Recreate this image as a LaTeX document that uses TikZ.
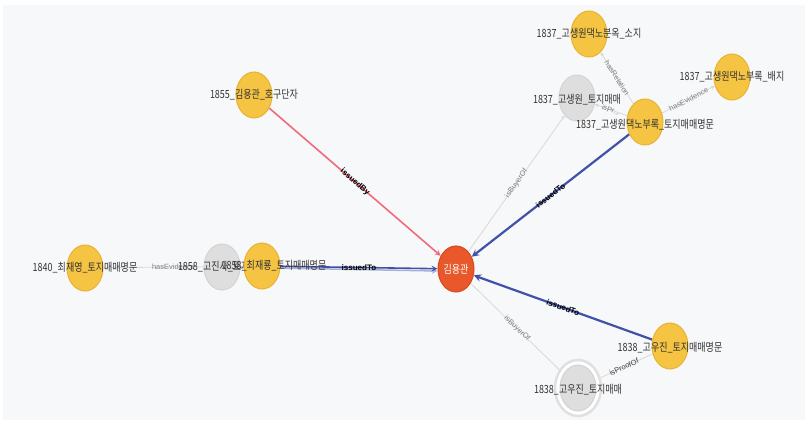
\documentclass[tikz,border=0pt]{standalone}
\usepackage{fontspec}
\setmainfont{Noto Sans CJK KR}
\newfontfamily\edgefont{Liberation Sans}
\usetikzlibrary{shapes.geometric,backgrounds}

\definecolor{paper}{HTML}{F7F8FA}
\definecolor{docfill}{HTML}{F5C443}
\definecolor{docedge}{HTML}{E9B230}
\definecolor{dealfill}{HTML}{DEDEDE}
\definecolor{dealedge}{HTML}{D3D3D3}
\definecolor{personfill}{HTML}{E8582B}
\definecolor{personedge}{HTML}{D5471E}
\definecolor{byline}{HTML}{F06B7B}
\definecolor{toline}{HTML}{4052A8}
\definecolor{softline}{HTML}{D8D8D8}
\definecolor{nametext}{HTML}{333333}

\begin{document}
\begin{tikzpicture}[x=1pt, y=-1pt, >=stealth,
    doc/.style = {ellipse, draw=docedge, fill=docfill, line width=1pt, minimum width=36pt, minimum height=46pt, inner sep=0pt},
    deal/.style = {doc, draw=dealedge, fill=dealfill},
    person/.style = {doc, draw=personedge, fill=personfill},
    lbl/.style = {font=\fontsize{9}{10}\selectfont, text=nametext, yscale=1.25, inner sep=0pt},
    rel/.style = {font=\edgefont\fontsize{7.5}{8}\selectfont, text=gray, sloped, inner sep=1pt},
    strong/.style = {rel, font=\edgefont\bfseries\fontsize{8}{9}\selectfont, text=black},
    weak/.style = {draw=softline, line width=0.8pt},
    ring/.style = {draw=dealedge!70, fill=white, line width=2.5pt}]
\useasboundingbox (0,0) rectangle (805,420);

% people and documents
\node[person] (kim) at (456,269) {};
\node[lbl, text=white] (kimname) at (kim) {김용관};
\node[doc] (hojuk) at (254,95) {};
\node[lbl] (hojukname) at (hojuk) {1855\_김용관\_호구단자};

\node[doc] (gswsozi) at (589,34) {};
\node[lbl] (gswsoziname) at (gswsozi) {1837\_고생원댁노분옥\_소지};
\node[doc] (gswbaeji) at (732,77) {};
\node[lbl] (gswbaejiname) at (gswbaeji) {1837\_고생원댁노부록\_배지};
\node[deal] (gswdeal) at (577,98) {};
\node[lbl] (gswdealname) at ([yshift=-2pt]gswdeal.center) {1837\_고생원\_토지매매};
\node[doc] (gswdoc) at (645,122) {};
\node[lbl] (gswdocname) at ([yshift=-3pt]gswdoc.center) {1837\_고생원댁노부록\_토지매매명문};

\node[doc] (choidoc) at (85,268) {};
\node[lbl] (choidocname) at (choidoc) {1840\_최재영\_토지매매명문};
\node[deal] (middeal) at (222,267) {};
\node[lbl] (middealname) at (middeal) {1858\_고진사\_토지매매};
\node[doc] (middoc) at (262,266) {};
\node[lbl] (middocname) at ([xshift=12pt]middoc.center) {1858\_최재룡\_토지매매명문};

\node[doc] (gwjdoc) at (670,346) {};
\node[lbl] (gwjdocname) at ([yshift=-2pt]gwjdoc.center) {1838\_고우진\_토지매매명문};
\draw[ring] (578,388) ellipse (23 and 28);
\node[deal] (gwjdeal) at (578,388) {};
\node[lbl] (gwjdealname) at ([yshift=-2pt]gwjdeal.center) {1838\_고우진\_토지매매};

\begin{scope}[on background layer]
\fill[white] (0,0) rectangle (805,420);
\fill[paper] (3,5) rectangle (805,420);

\draw[->, byline, line width=1.6pt] (hojuk) -- node[strong] {issuedBy} (kim);
\draw[->, toline, line width=2.2pt] (gswdoc) -- node[strong] {issuedTo} (kim);
\draw[->, toline, line width=2.2pt] (gwjdoc) -- node[strong] {issuedTo} (kim);
\draw[->, toline!45, line width=1.5pt] (middeal) -- ([yshift=-2pt]kim.west);
\draw[->, toline, line width=1.6pt] (middoc) -- node[strong] {issuedTo} (kim);

\draw[->, weak] (kim) -- node[rel] {isBuyerOf} (gswdeal);
\draw[weak] (kim) -- node[rel] {isBuyerOf} (gwjdeal);
\draw[->, weak] (gswdoc) -- node[rel] {hasRelation} (gswsozi);
\draw[->, weak] (gswdoc) -- node[rel] {hasEvidence} (gswbaeji);
\draw[->, weak] (gswdoc) -- node[rel] {isPr...} (gswdeal);
\draw[weak] (gwjdoc) -- node[rel, text=darkgray] {isProofOf} (gwjdeal);
\draw[weak] (middoc) -- node[rel] {hasEvidence} (choidoc);
\end{scope}

\end{tikzpicture}
\end{document}
